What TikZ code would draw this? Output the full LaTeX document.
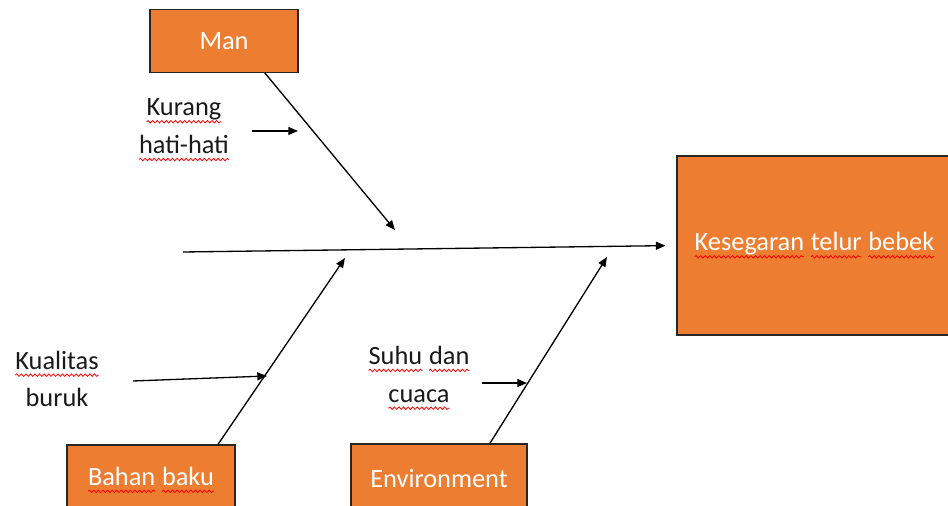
\documentclass[tikz,border=0pt]{standalone}
\usepackage{fontspec}
\setmainfont{Carlito}
\usetikzlibrary{arrows.meta,decorations.pathmorphing}
% red spell-check wave under a word
\newcommand\spellwave[1]{\tikz[baseline=(w.base)]{%
  \node[inner sep=0pt,outer sep=0pt,minimum width=0pt,minimum height=0pt,
    draw=none,fill=none] (w) {#1};
  \draw[red,line width=0.45pt,decorate,
    decoration={snake,amplitude=0.7pt,segment length=2.6pt}]
    ([yshift=-3.4pt]w.base west) -- ([yshift=-3.4pt]w.base east);}}
\begin{document}
\begin{tikzpicture}[x=0.02cm,y=-0.02cm,
  font=\fontsize{15}{21.5}\selectfont,
  cause/.style={draw=black!85,fill=boxorange,text=white,line width=0.7pt,
    minimum width=#1,minimum height=1.25cm,inner sep=0pt},
  note/.style={align=center,text=black!90,inner sep=0pt},
  bone/.style={line width=0.75pt,-{Triangle[length=5.5pt,width=4.5pt]}}]
 \definecolor{boxorange}{RGB}{237,125,49}
 \useasboundingbox (0,0) rectangle (948,506);
 % boxes
 \node[cause=2.96cm] (man) at (224,41) {Man};
 \node[cause=3.36cm,minimum height=1.4cm] (bahan) at (151,480)
   {\spellwave{Bahan} \spellwave{baku}};
 \node[cause=3.52cm,minimum height=1.4cm] (env) at (439,479) {Environment};
 \node[cause=5.5cm,minimum height=3.58cm] (effect) at (814.5,245.5)
   {\spellwave{Kesegaran} \spellwave{telur} \spellwave{bebek}};
 % notes
 \node[note] (kurang) at (184,130) {\spellwave{Kurang}\\\spellwave{hati-hati}};
 \node[note] (kualitas) at (57,379) {\spellwave{Kualitas}\\buruk};
 \node[note] (suhu) at (419,378) {\spellwave{Suhu} \spellwave{dan}\\\spellwave{cuaca}};
 % spine and bones
 \coordinate (tail) at (183,252);
 \draw[bone,shorten >=6.2pt] (tail) -- (effect.west);
 \coordinate (mantip) at (395,230);
 \coordinate (bahantip) at (345,258);
 \coordinate (envtip) at (607,257);
 \draw[bone] (man.-38.5) -- (mantip);
 \draw[bone] (bahan.28.3) -- (bahantip);
 \draw[bone] (env.35) -- (envtip);
 % small arrows
 \coordinate (k0) at (252,131); \coordinate (k1) at (298,131);
 \coordinate (q0) at (133,381); \coordinate (q1) at (267,376);
 \coordinate (s0) at (482,383); \coordinate (s1) at (527,383);
 \foreach \a/\b in {k0/k1, q0/q1, s0/s1}
   \draw[bone] (\a) -- (\b);
\end{tikzpicture}
\end{document}
